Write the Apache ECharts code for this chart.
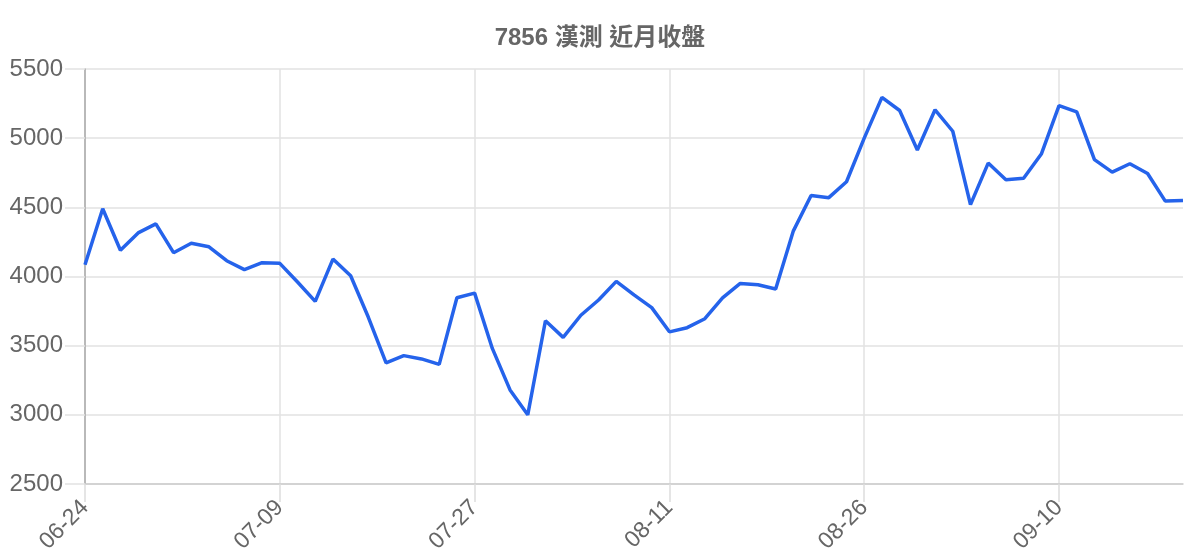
<!DOCTYPE html>
<html>
<head>
<meta charset="utf-8">
<script src="https://cdn.jsdelivr.net/npm/echarts@6/dist/echarts.min.js"></script>
<style>
html,body{margin:0;padding:0;background:#fff;}
#chart{width:1200px;height:560px;}
</style>
</head>
<body>
<div id="chart"></div>
<script>
const titleText = '7856 漢測 近月收盤';
const dates = [
  '06-24','06-25','06-26','06-27','06-28','07-01','07-02','07-03','07-04','07-05','07-08',
  '07-09','07-10','07-11','07-12','07-15','07-16','07-17','07-18','07-19','07-22','07-23',
  '07-27','07-29','07-30','07-31','08-01','08-02','08-05','08-06','08-07','08-08','08-09',
  '08-11','08-12','08-13','08-14','08-15','08-16','08-19','08-20','08-21','08-22','08-23',
  '08-26','08-27','08-28','08-29','08-30','09-02','09-03','09-04','09-05','09-06','09-09',
  '09-10','09-11','09-12','09-13','09-16','09-17','09-18','09-19'
];
const closes = [
  4085,4490,4190,4315,4380,4172,4240,4215,4114,4050,4100,
  4095,3960,3820,4126,4005,3705,3375,3428,3404,3365,3846,
  3880,3480,3180,3000,3680,3560,3720,3830,3965,3867,3775,
  3600,3630,3695,3845,3950,3940,3910,4330,4585,4570,4685,
  5000,5295,5200,4915,5205,5050,4520,4820,4700,4710,4885,
  5235,5190,4845,4755,4815,4745,4545,4550
];
const yMin = 2500, yMax = 5500, yStep = 500;

const font = "'Liberation Sans', Arial, 'Noto Sans CJK TC', sans-serif";
const chart = echarts.init(document.getElementById('chart'), null, {renderer:'canvas'});
chart.setOption({
  animation: false,
  backgroundColor: '#ffffff',
  title: {
    text: titleText,
    left: 'center',
    top: 21,
    textStyle: { fontFamily: font, fontSize: 24, fontWeight: 'bold', color: '#666666' }
  },
  grid: { left: 85, right: 17, top: 69, bottom: 76, containLabel: false },
  xAxis: {
    type: 'category',
    data: dates,
    boundaryGap: false,
    axisLine: { show: true, lineStyle: { color: '#cccccc', width: 1.5 } },
    axisTick: { show: true, interval: 10, length: 18, lineStyle: { color: '#dddddd', width: 1.5 } },
    splitLine: { show: true, interval: 10, lineStyle: { color: '#e2e2e2', width: 1.5 } },
    axisLabel: {
      interval: 10, rotate: 45, margin: 20,
      fontFamily: font, fontSize: 23, color: '#666666'
    }
  },
  yAxis: {
    type: 'value',
    min: yMin, max: yMax, interval: yStep,
    axisLine: { show: true, lineStyle: { color: '#a8a8a8', width: 1.5 } },
    axisTick: { show: true, length: 20, lineStyle: { color: '#e2e2e2', width: 1.5 } },
    splitLine: { show: true, lineStyle: { color: '#e2e2e2', width: 1.5 } },
    axisLabel: {
      margin: 22, fontFamily: font, fontSize: 24, color: '#666666',
      formatter: function (v) { return String(v); }
    }
  },
  series: [{
    type: 'line',
    data: closes,
    showSymbol: false,
    smooth: false,
    lineStyle: { color: '#2563eb', width: 3.5 },
    itemStyle: { color: '#2563eb' }
  }]
});
</script>
</body>
</html>
